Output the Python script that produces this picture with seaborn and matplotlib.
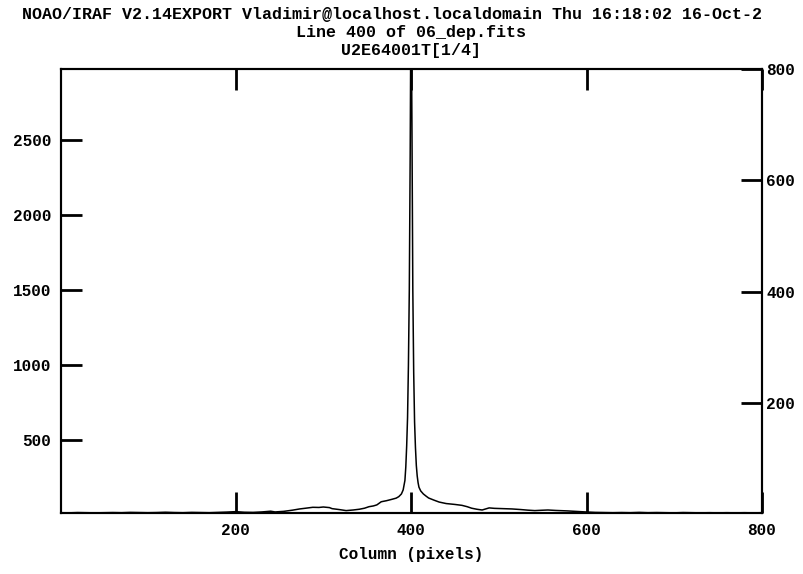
import numpy as np
import pandas as pd
import seaborn as sns
import matplotlib.pyplot as plt

# line 400 profile
cols = [1, 10, 20, 30, 40, 50, 60, 70, 80, 90, 100, 110, 120, 130, 140, 150,
        160, 170, 180, 190, 200, 210, 220, 230, 240, 245, 255, 265, 273, 280,
        288, 295, 300, 307, 310, 318, 326, 334, 341, 347, 352, 357, 361, 366,
        372, 378, 383, 386, 389, 391, 393, 394, 395, 396, 397, 398, 399, 400,
        401, 402, 403, 404, 405, 406, 407, 408, 409, 411, 414, 417, 420, 426,
        432, 440, 450, 458, 464, 469, 475, 481, 485, 489, 495, 505, 515, 525,
        533, 541, 548, 556, 565, 578, 590, 599, 610, 620, 630, 640, 650, 660,
        670, 680, 690, 700, 710, 720, 730, 740, 750, 760, 770, 780, 790, 800]
counts = [15, 14, 16, 15, 14, 15, 16, 15, 17, 16, 15, 16, 18, 16, 15, 17,
          16, 15, 17, 19, 22, 18, 17, 20, 25, 20, 24, 32, 40, 45,
          51, 50, 53, 49, 42, 36, 29, 33, 38, 45, 55, 60, 67, 88,
          95, 104, 112, 122, 140, 167, 230, 320, 460, 650, 1000, 1500, 2400, 3600,
          2600, 1500, 950, 620, 450, 330, 260, 215, 185, 160, 140, 126, 113, 99,
          86, 76, 70, 64, 55, 45, 38, 33, 40, 47, 44, 42, 40, 36,
          32, 29, 31, 33, 30, 27, 23, 20, 17, 16, 15, 16, 15, 17,
          15, 16, 15, 14, 16, 15, 14, 15, 14, 15, 14, 15, 14, 15]

xticks = [200, 400, 600, 800]
yticks = [500, 1000, 1500, 2000, 2500]
rticks = [200, 400, 600, 800]

df = pd.DataFrame({'col': cols, 'val': counts})

sns.set_style('white')
plt.rcParams['font.family'] = ['Liberation Mono', 'DejaVu Sans Mono']
plt.rcParams['font.weight'] = 'bold'
plt.rcParams['text.color'] = 'black'
plt.rcParams['axes.labelcolor'] = 'black'
plt.rcParams['xtick.color'] = 'black'
plt.rcParams['ytick.color'] = 'black'
plt.rcParams['axes.edgecolor'] = 'black'

fig = plt.figure(figsize=(8.04, 5.74), dpi=100)
ax = fig.add_axes([61/804, 1-513/574, 701/804, 444/574])

sns.lineplot(data=df, x='col', y='val', ax=ax, color='black', lw=1.1)
ax.set_xlim(1, 797)
ax.set_ylim(13, 2973)
ax.set_xticks(xticks)
ax.set_yticks(yticks)
ax.tick_params(direction='in', length=15, width=2, labelsize=11.5,
               top=True, left=True, bottom=True, right=False)
ax.tick_params(axis='y', pad=7)
ax.tick_params(axis='x', pad=7)
ax.set_xlabel('Column (pixels)', fontsize=11.5, fontweight='bold', labelpad=7)
ax.set_ylabel('')
for s in ax.spines.values():
    s.set_linewidth(1.5)

ax2 = ax.twinx()
ax2.set_ylim(2.4, 800)
ax2.set_yticks(rticks)
ax2.tick_params(direction='in', length=15, width=2, labelsize=11.5, pad=3)
for s in ax2.spines.values():
    s.set_linewidth(1.5)

fig.text(392/804, 1-14/574, 'NOAO/IRAF V2.14EXPORT Vladimir@localhost.localdomain Thu 16:18:02 16-Oct-2',
         ha='center', va='center', fontsize=12, fontweight='bold')
fig.text(411/804, 1-33/574, 'Line 400 of 06_dep.fits', ha='center', va='center',
         fontsize=12, fontweight='bold')
fig.text(411/804, 1-51/574, 'U2E64001T[1/4]', ha='center', va='center',
         fontsize=12, fontweight='bold')

fig.savefig('out.png', dpi=100, facecolor='white')
